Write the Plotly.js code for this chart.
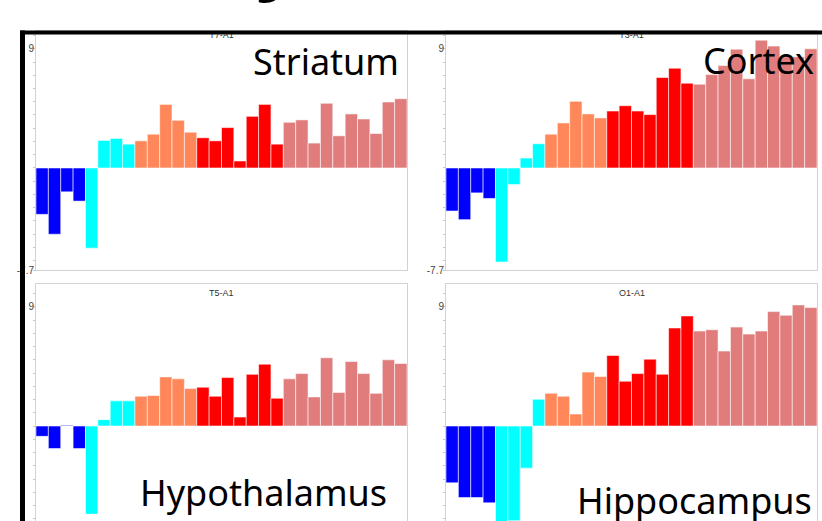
<!DOCTYPE html>
<html><head><meta charset="utf-8">
<script src="https://cdn.plot.ly/plotly-3.0.1.min.js"></script>
<style>html,body{margin:0;padding:0;background:#fff;overflow:hidden;} #chart{width:822px;height:521px;}</style>
</head><body><div id="chart"></div>
<script>
// ---- data ----
const bins = [1,2,3,4,5,6,7,8,9,10,11,12,13,14,15,16,17,18,19,20,21,22,23,24,25,26,27,28,29,30];
const groupSizes = [4, 4, 5, 7, 10];
const groupColors = ['#0000FF', '#00FFFF', '#FF875A', '#FF0000', '#E07C7C'];
const channelNames = ['T7-A1', 'T3-A1', 'T5-A1', 'O1-A1'];
const regionNames = ['Striatum', 'Cortex', 'Hypothalamus', 'Hippocampus'];
const striatum = [-3.5,-5.0,-1.8,-2.5,-6.05,2.08,2.23,1.8,2.05,2.55,4.8,3.6,2.7,2.28,2.05,3.05,0.53,3.9,4.8,1.8,3.45,3.63,1.88,4.88,2.43,4.08,3.7,2.6,4.98,5.23];
const cortex = [-3.25,-3.9,-1.88,-2.3,-7.1,-1.25,0.75,1.83,2.55,3.4,5.03,4.08,3.78,4.3,4.7,4.3,4.03,6.83,7.53,6.4,6.33,7.05,7.73,8.97,6.73,9.65,9.2,8.4,8.4,9.0];
const hypothalamus = [-0.78,-1.7,0.05,-1.7,-6.65,0.48,1.9,1.9,2.25,2.3,3.71,3.56,2.83,2.93,2.25,3.66,0.68,3.9,4.67,2.1,3.56,3.96,2.2,5.15,2.53,4.87,3.96,2.47,5.0,4.72];
const hippocampus = [-4.29,-5.4,-5.4,-5.8,-7.5,-7.15,-3.18,2.02,2.47,2.25,0.91,4.07,3.74,5.33,3.38,3.96,5.05,3.91,7.4,8.31,7.17,7.27,5.66,7.47,6.94,7.17,8.64,8.36,9.14,8.94];
const yTickVals = [-7.7, 9];
const yTickText = ['-7.7', '9'];
const seriesList = [striatum, cortex, hypothalamus, hippocampus];

// ---- layout helpers ----
const W = 822, H = 521;
const px = x => x / W;
const py = y => 1 - y / H;

const barColors = [];
groupSizes.forEach((n, g) => { for (let i = 0; i < n; i++) barColors.push(groupColors[g]); });

const panels = [
  {x: [36, 407], y: [31, 270], range: [-7.7, 10.34], top: true, labelX: 401, labelY: 35},
  {x: [446, 817], y: [31, 270], range: [-7.7, 10.34], top: true, labelX: 816, labelY: 34},
  {x: [36, 407], y: [284.3, 521], range: [-7.17, 10.70], top: false, labelX: 389, labelY: 466},
  {x: [446, 817], y: [284.3, 521], range: [-7.17, 10.70], top: false, labelX: 814, labelY: 474}
];

const frameColor = '#d2d2d2';
const tickFont = {family: 'Liberation Sans Narrow, Liberation Sans, Arial', size: 10, color: '#444'};
const traces = [];
const layout = {
  width: W, height: H,
  margin: {l: 0, r: 0, t: 0, b: 0},
  paper_bgcolor: '#ffffff', plot_bgcolor: '#ffffff',
  showlegend: false,
  bargap: 0,
  annotations: [],
  shapes: []
};

panels.forEach((p, i) => {
  const k = i === 0 ? '' : String(i + 1);
  traces.push({
    type: 'bar', x: bins, y: seriesList[i],
    xaxis: 'x' + k, yaxis: 'y' + k,
    width: 1,
    marker: {color: barColors, line: {color: 'rgba(255,255,255,0.55)', width: 1}},
    hoverinfo: 'skip'
  });
  layout['xaxis' + k] = {
    domain: [px(p.x[0]), px(p.x[1])],
    anchor: 'y' + k,
    range: [0.5, 30.5],
    showline: true, linecolor: frameColor, linewidth: 1,
    mirror: p.top ? true : false,
    side: p.top ? 'bottom' : 'top',
    showgrid: false, zeroline: false, showticklabels: false, ticks: '',
    fixedrange: true
  };
  layout['yaxis' + k] = {
    domain: [py(p.y[1]), py(p.y[0])],
    anchor: 'x' + k,
    range: p.range,
    showline: true, linecolor: frameColor, linewidth: 1, mirror: true,
    showgrid: false, zeroline: false,
    tickmode: 'array', tickvals: yTickVals, ticktext: yTickText,
    ticks: 'outside', ticklen: 2, tickcolor: '#c8c8c8',
    ticklabelstandoff: -3,
    tickfont: tickFont,
    minor: {tickmode: 'linear', tick0: 0, dtick: 1, ticks: 'outside', ticklen: 2, tickcolor: '#c8c8c8', showgrid: false},
    fixedrange: true
  };
  // region name
  layout.annotations.push({
    xref: 'paper', yref: 'paper',
    x: px(p.labelX), y: py(p.labelY),
    xanchor: 'right', yanchor: 'top',
    text: regionNames[i], showarrow: false,
    font: {family: 'Noto Sans, Open Sans, sans-serif', size: 36, color: '#000'}
  });
  // channel subtitle
  if (p.top) {
    layout.shapes.push({
      type: 'rect', xref: 'paper', yref: 'paper',
      x0: px(p.x[0]), x1: px(p.x[1]), y0: py(38), y1: py(29),
      line: {width: 0}, fillcolor: 'rgba(0,0,0,0)',
      label: {text: channelNames[i], textposition: 'middle center',
              font: {family: 'Liberation Sans Narrow, Liberation Sans, Arial', size: 9, color: '#333'}}
    });
  } else {
    layout.annotations.push({
      xref: 'paper', yref: 'paper',
      x: px((p.x[0] + p.x[1]) / 2), y: py(p.y[0] + 8.5),
      xanchor: 'center', yanchor: 'middle',
      text: channelNames[i], showarrow: false,
      font: {family: 'Liberation Sans Narrow, Liberation Sans, Arial', size: 9, color: '#333'}
    });
  }
});

// slide frame lines (black)
layout.shapes.push({type: 'line', xref: 'paper', yref: 'paper', x0: px(20), x1: 1.01, y0: py(32.5), y1: py(32.5), line: {color: '#000', width: 4}});
layout.shapes.push({type: 'line', xref: 'paper', yref: 'paper', x0: px(22.5), x1: px(22.5), y0: py(30.5), y1: -0.01, line: {color: '#000', width: 5}});

// cropped slide title fragment
layout.annotations.push({
  xref: 'paper', yref: 'paper',
  x: px(279), y: py(-104), xanchor: 'center', yanchor: 'top',
  text: '<b>y</b>', showarrow: false,
  font: {family: 'Noto Sans, sans-serif', size: 80, color: '#000'}
});

Plotly.newPlot('chart', traces, layout, {staticPlot: true, displayModeBar: false});
</script>
</body></html>
